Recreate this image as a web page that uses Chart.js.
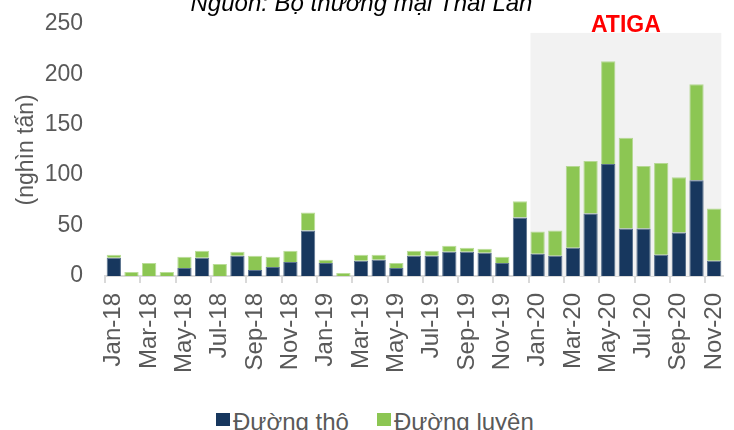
<!DOCTYPE html>
<html>
<head>
<meta charset="utf-8">
<script src="https://cdn.jsdelivr.net/npm/chart.js@4"></script>
<style>
    html, body { margin: 0; padding: 0; background: #fff; overflow: hidden; width: 734px; height: 430px; }
    #wrap { position: absolute; left: 0; top: -12px; width: 734px; height: 400px; }
    #legend {
        position: absolute; left: 216px; top: 410px;
        display: flex; align-items: flex-start;
        font-family: 'Liberation Sans', Arial, sans-serif; font-size: 24px; line-height: 24px; color: #595959;
        white-space: nowrap;
    }
    #legend .box { width: 14px; height: 13px; margin-top: 3px; margin-right: 3px; }
    #legend .item { display: flex; align-items: flex-start; margin-right: 28px; }
</style>
</head>
<body>
<div id="wrap"><canvas id="sugarChart"></canvas></div>
<div id="legend"></div>
<script>
// ===================== DATA =====================
const months = [
    'Jan-18', 'Feb-18', 'Mar-18', 'Apr-18', 'May-18', 'Jun-18', 'Jul-18', 'Aug-18', 'Sep-18', 'Oct-18', 'Nov-18', 'Dec-18',
    'Jan-19', 'Feb-19', 'Mar-19', 'Apr-19', 'May-19', 'Jun-19', 'Jul-19', 'Aug-19', 'Sep-19', 'Oct-19', 'Nov-19', 'Dec-19',
    'Jan-20', 'Feb-20', 'Mar-20', 'Apr-20', 'May-20', 'Jun-20', 'Jul-20', 'Aug-20', 'Sep-20', 'Oct-20', 'Nov-20'
];
const rawSugar = [18, 0, 0, 0, 8, 18, 0, 20, 6, 9, 14, 45, 13, 0, 15, 16, 8, 20, 20, 24, 24, 23, 13, 58, 22, 20, 28, 62, 111, 47, 47, 21, 43, 95, 15];
const refinedSugar = [3, 4, 13, 4, 11, 7, 12, 4, 14, 10, 11, 18, 3, 3, 6, 5, 5, 5, 5, 6, 4, 4, 6, 16, 22, 25, 81, 52, 102, 90, 62, 91, 55, 95, 52];
const yTicks = [0, 50, 100, 150, 200, 250];

// ATIGA period (shaded)
const atigaStart = 'Jan-20';
const atigaEnd = 'Nov-20';
const atigaTop = 241;

const textColor = '#595959';
const fontFamily = "'Liberation Sans', Arial, sans-serif";
const colorRaw = '#17375E';
const colorRefined = '#8CC653';

// ===================== PLUGINS =====================
const atigaShade = {
    id: 'atigaShade',
    beforeDatasetsDraw(chart) {
        const meta = chart.getDatasetMeta(0);
        const first = meta.data[months.indexOf(atigaStart)];
        const last = meta.data[months.indexOf(atigaEnd)];
        const y = chart.scales.y;
        const x0 = first.x - first.width / 2;
        const x1 = last.x + last.width / 2;
        const top = y.getPixelForValue(atigaTop);
        const ctx = chart.ctx;
        ctx.save();
        ctx.fillStyle = '#F2F2F2';
        ctx.fillRect(x0, top, x1 - x0, y.getPixelForValue(0) - top);
        ctx.fillStyle = '#FF0000';
        ctx.font = "bold 23px " + fontFamily;
        ctx.textAlign = 'center';
        ctx.textBaseline = 'alphabetic';
        ctx.fillText('ATIGA', (x0 + x1) / 2, top - 1);
        ctx.restore();
    }
};

// ===================== CHART =====================
const ctx = document.getElementById('sugarChart');
const sugarChart = new Chart(ctx, {
    type: 'bar',
    data: {
        labels: months,
        datasets: [
            {
                label: 'Đường thô',
                data: rawSugar,
                backgroundColor: colorRaw,
                borderColor: 'rgba(23, 55, 94, 0.7)',
                borderWidth: 1,
                categoryPercentage: 1,
                barPercentage: 0.81
            },
            {
                label: 'Đường luyện',
                data: refinedSugar,
                backgroundColor: colorRefined,
                borderColor: 'rgba(140, 198, 83, 0.6)',
                borderWidth: 1,
                categoryPercentage: 1,
                barPercentage: 0.81
            }
        ]
    },
    options: {
        responsive: true,
        maintainAspectRatio: false,
        animation: false,
        layout: {
            padding: { left: 0, right: 11, top: 0, bottom: 0 }
        },
        plugins: {
            title: {
                display: true,
                text: 'Nguồn: Bộ thương mại Thái Lan',
                color: '#000',
                font: { family: fontFamily, size: 24, style: 'italic', weight: 'normal' },
                padding: { top: 0, bottom: 5 }
            },
            legend: { display: false },
            tooltip: { enabled: false }
        },
        scales: {
            x: {
                stacked: true,
                offset: true,
                grid: {
                    offset: true,
                    drawOnChartArea: false,
                    tickLength: 7,
                    lineWidth: 2,
                    color: function(c) {
                        return c.index % 2 === 0 ? '#D9D9D9' : 'rgba(0,0,0,0)';
                    }
                },
                border: { display: true, color: '#D9D9D9', width: 2 },
                ticks: {
                    autoSkip: false,
                    maxRotation: 90,
                    minRotation: 90,
                    padding: 10,
                    color: textColor,
                    font: { family: fontFamily, size: 24 },
                    callback: function(value, index) {
                        return index % 2 === 0 ? months[index] : '';
                    }
                },
                afterFit: function(axis) {
                    axis.height = 112;
                    axis.paddingLeft = 0;
                    axis.paddingRight = 0;
                }
            },
            y: {
                stacked: true,
                min: yTicks[0],
                max: yTicks[yTicks.length - 1],
                grid: { display: false, drawTicks: false },
                border: { display: false },
                afterBuildTicks: function(axis) {
                    axis.ticks = yTicks.map(v => ({ value: v }));
                },
                afterFit: function(axis) {
                    axis.width = 105;
                },
                ticks: {
                    padding: 22,
                    color: textColor,
                    font: { family: fontFamily, size: 23 }
                },
                title: {
                    display: true,
                    text: '(nghìn tấn)',
                    color: textColor,
                    font: { family: fontFamily, size: 23 },
                    padding: { top: 13, bottom: 4 }
                }
            }
        }
    },
    plugins: [atigaShade]
});

// HTML legend built from the chart's datasets
const legendEl = document.getElementById('legend');
sugarChart.data.datasets.forEach(ds => {
    const item = document.createElement('div');
    item.className = 'item';
    const box = document.createElement('span');
    box.className = 'box';
    box.style.background = ds.backgroundColor;
    const txt = document.createElement('span');
    txt.textContent = ds.label;
    item.appendChild(box);
    item.appendChild(txt);
    legendEl.appendChild(item);
});
</script>
</body>
</html>
